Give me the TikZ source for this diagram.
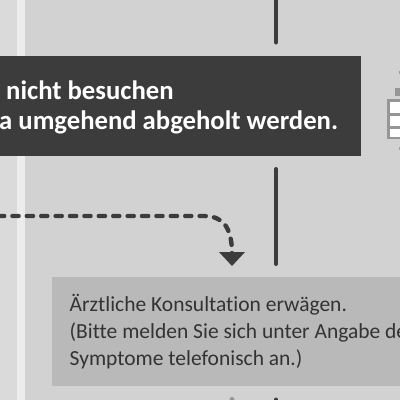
\documentclass[tikz,border=0pt]{standalone}
\usepackage{fontspec}
\setmainfont[Ligatures=NoCommon]{Carlito}
\definecolor{bg}{HTML}{D2D2D2}
\definecolor{strip}{HTML}{DADADA}
\definecolor{white2}{HTML}{ECECEC}
\definecolor{dark}{HTML}{3C3C3C}
\definecolor{boxg}{HTML}{B9B9B9}
\definecolor{icong}{HTML}{969696}
\tikzset{x=1pt,y=-1pt,
 flow/.style={draw=dark,line width=4pt,line cap=round},
 dashflow/.style={draw=dark,line width=4.4pt,line cap=round,dash pattern=on 6.2pt off 8.2pt},
 headtip/.style={fill=dark,draw=none},
 darktxt/.style={text=white,font=\fontsize{26.7}{30}\selectfont\bfseries,anchor=base west,inner sep=0pt},
 lighttxt/.style={text=black!80,font=\fontsize{21.5}{27}\selectfont,anchor=base west,inner sep=0pt}}
\begin{document}
\begin{tikzpicture}
\useasboundingbox (0,0) rectangle (400,400);
\fill[bg] (0,0) rectangle (400,400);
\fill[strip] (0,0) rectangle (17,400);
\fill[white2] (17,0) rectangle (25,400);
\fill[dark] (0,56) rectangle (361,156);
\fill[boxg] (52,277) rectangle (400,386);
\coordinate (t1) at (276,-5); \coordinate (t2) at (276,42.5);
\coordinate (t3) at (276,169); \coordinate (t4) at (276,264);
\draw[flow] (t1) -- (t2);
\draw[flow] (t3) -- (t4);
\node[darktxt] (n1) at (6,99.5) {nicht besuchen};
\node[darktxt] (n2) at (-1,129.5) {a umgehend abgeholt werden.};
\node[lighttxt] (a1) at (69.5,311) {Ärztliche Konsultation erwägen.};
\begin{scope}
\clip (0,0) rectangle (400,400);
\node[lighttxt] (a2) at (69.5,338) {(Bitte melden Sie sich unter Angabe de};
\end{scope}
\node[lighttxt] (a3) at (69.5,365) {Symptome telefonisch an.)};
\coordinate (d0) at (-2,216); \coordinate (d1) at (204,216); \coordinate (d2) at (232,254);
\draw[dashflow] (d0) -- (d1) .. controls (222,216) and (232,226) .. (d2);
\coordinate (h) at (232,266);
\fill[headtip] (219,252) -- (245,252) -- (h) -- cycle;
\fill[icong] (387,99) rectangle (400,139);
\fill[icong] (395,88) rectangle (400,96);
\fill[white] (390,102) rectangle (400,113);
\fill[white] (390,116) rectangle (400,126);
\fill[white] (390,128.5) rectangle (400,137);
\fill[dark!50] (399,71) rectangle (400,74);
\fill[dark!50] (399,147) rectangle (400,150);
\fill[icong] (232,399.5) circle (2.5);
\fill[dark] (276,399.5) circle (2);
\end{tikzpicture}
\end{document}
